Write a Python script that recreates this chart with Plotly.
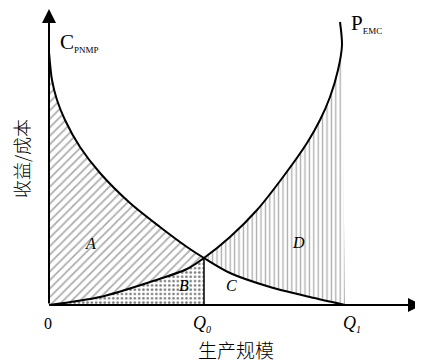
import plotly.graph_objects as go

# curve readings (x = scale from origin, y = revenue/cost)
c_x = [0, 3, 8, 16, 31, 51, 81, 111, 138, 155, 181, 221, 261, 296]
c_y = [253, 225, 205, 185, 158, 132, 102, 78, 58, 47, 32, 18, 8, 0]

p_x = [0, 51, 101, 138, 155, 181, 208, 234, 258, 271, 281, 289, 293, 291]
p_y = [0, 8, 23, 36, 47, 68, 95, 128, 162, 185, 208, 235, 260, 283]

q0 = 155
q1 = 296
cross_y = 47
y_top = 296
x_end = 373

i_c = c_x.index(q0)
i_p = p_x.index(q0)

# region A: between y axis, C (above) and P (below)
a_x = [0] + c_x[:i_c + 1] + p_x[:i_p + 1][::-1]
a_y = [0] + c_y[:i_c + 1] + p_y[:i_p + 1][::-1]

# region B: under P up to Q0
b_x = p_x[:i_p + 1] + [q0, 0]
b_y = p_y[:i_p + 1] + [0, 0]

# region D: between C (below) and P (above) from Q0 to Q1
d_x = c_x[i_c:] + p_x[i_p:-1][::-1]
d_y = c_y[i_c:] + p_y[i_p:-1][::-1]

fig = go.Figure()

fig.add_trace(go.Scatter(x=a_x, y=a_y, fill='toself', mode='lines', line=dict(width=0),
                         fillcolor='rgba(0,0,0,0)',
                         fillpattern=dict(shape='/', fgcolor='#5a5a5a', bgcolor='white', size=6, solidity=0.3)))
fig.add_trace(go.Scatter(x=b_x, y=b_y, fill='toself', mode='lines', line=dict(width=0),
                         fillcolor='rgba(0,0,0,0)',
                         fillpattern=dict(shape='.', fgcolor='black', bgcolor='white', size=4.3, solidity=0.3)))
fig.add_trace(go.Scatter(x=d_x, y=d_y, fill='toself', mode='lines', line=dict(width=0),
                         fillcolor='rgba(0,0,0,0)',
                         fillpattern=dict(shape='|', fgcolor='#5a5a5a', bgcolor='white', size=4.4, solidity=0.3)))

# curves
fig.add_trace(go.Scatter(x=c_x, y=c_y, mode='lines', line=dict(color='black', width=2, shape='spline', smoothing=0.8)))
fig.add_trace(go.Scatter(x=p_x, y=p_y, mode='lines', line=dict(color='black', width=2, shape='spline', smoothing=0.8)))
fig.add_trace(go.Scatter(x=[q0, q0], y=[0, cross_y], mode='lines', line=dict(color='black', width=1.5)))

serif = 'Liberation Serif'
cjk = 'Noto Sans CJK SC'

annotations = [
    # axes with arrows
    dict(x=0, y=y_top, ax=0, ay=0, axref='x', ayref='y', xref='x', yref='y', text='',
         showarrow=True, arrowhead=2, arrowsize=1.4, arrowwidth=2, arrowcolor='black'),
    dict(x=x_end, y=0, ax=0, ay=0, axref='x', ayref='y', xref='x', yref='y', text='',
         showarrow=True, arrowhead=2, arrowsize=1.4, arrowwidth=2, arrowcolor='black'),
    dict(x=9, y=263, text="C<sub><span style='font-size:9px'>PNMP</span></sub>", xanchor='left',
         font=dict(family=serif, size=21, color='black')),
    dict(x=300, y=282, text="P<sub><span style='font-size:9px'>EMC</span></sub>", xanchor='left',
         font=dict(family=serif, size=21, color='black')),
    dict(x=41, y=62, text='<i>A</i>', font=dict(family=serif, size=16, color='black')),
    dict(x=135, y=20, text='<i>B</i>', font=dict(family=serif, size=16, color='black')),
    dict(x=182, y=20, text='<i>C</i>', font=dict(family=serif, size=16, color='black')),
    dict(x=249, y=63, text='<i>D</i>', font=dict(family=serif, size=16, color='black')),
    dict(x=-1, y=-18, text='0', font=dict(family=serif, size=16, color='black')),
    dict(x=153, y=-19, text="<i>Q</i><sub><i><span style='font-size:10px'>0</span></i></sub>",
         font=dict(family=serif, size=18, color='black')),
    dict(x=303, y=-19, text="<i>Q</i><sub><i><span style='font-size:10px'>1</span></i></sub>",
         font=dict(family=serif, size=18, color='black')),
    dict(x=187, y=-44, text='生产规模', font=dict(family=cjk, size=19, color='black', weight=300)),
    dict(x=-28, y=146, text='收益/成本', textangle=-90, font=dict(family=cjk, size=18, color='black', weight=300)),
]
for a in annotations:
    a.setdefault('showarrow', False)
    a.setdefault('xref', 'x')
    a.setdefault('yref', 'y')

# page body adds an 8px offset, so the figure is 8px smaller and ranges shifted
fig.update_layout(
    width=415, height=356,
    margin=dict(l=0, r=0, t=0, b=0),
    paper_bgcolor='white', plot_bgcolor='white',
    showlegend=False,
    xaxis=dict(range=[-41, 374], visible=False, fixedrange=True),
    yaxis=dict(range=[-59, 297], visible=False, fixedrange=True),
    annotations=annotations,
)

fig.write_html("out.html")
